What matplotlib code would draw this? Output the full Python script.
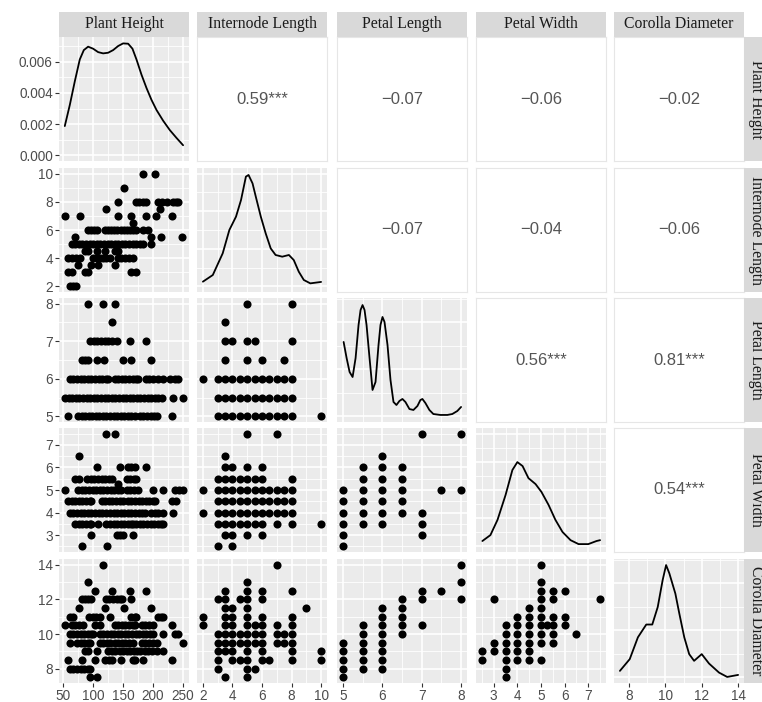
import numpy as np
import matplotlib.pyplot as plt
from matplotlib.ticker import MaxNLocator, AutoMinorLocator

variables = ["Plant Height", "Internode Length", "Petal Length", "Petal Width", "Corolla Diameter"]
var_ranges = [(53, 250), (2, 10), (5, 8), (2.5, 7.5), (7.5, 14)]
var_breaks = [[50, 100, 150, 200, 250], [2, 4, 6, 8, 10], [5, 6, 7, 8], [3, 4, 5, 6, 7], [8, 10, 12, 14]]

# correlations shown in the upper triangle
cor_cells = [(0, 1), (0, 2), (0, 3), (0, 4), (1, 2), (1, 3), (1, 4), (2, 3), (2, 4), (3, 4)]
cor_labels = ["0.59***", "\u22120.07", "\u22120.06", "\u22120.02", "\u22120.07",
              "\u22120.04", "\u22120.06", "0.56***", "0.81***", "0.54***"]

# diagonal density curves
ph_dens_x = [52.8, 61.2, 69.5, 77.8, 84.5, 91.7, 100, 108.4, 116.7, 125, 133.4, 141.7, 150,
             158.4, 165.6, 172.3, 180.6, 189, 197.3, 205.7, 216.8, 227.9, 239, 250]
ph_dens_y = [0.00188, 0.00324, 0.00475, 0.00615, 0.00675, 0.00697, 0.00684, 0.00662, 0.00654,
             0.00658, 0.00675, 0.00701, 0.00718, 0.00716, 0.00684, 0.00615, 0.00518, 0.00432,
             0.00356, 0.00291, 0.00222, 0.00162, 0.00112, 0.00065]
il_dens_x = [2.0, 2.67, 3.34, 3.79, 4.24, 4.58, 4.91, 5.09, 5.36, 5.58, 5.92, 6.25, 6.59, 6.92,
             7.37, 7.82, 8.15, 8.49, 8.83, 9.27, 10.0]
il_dens_y = [0.0125, 0.0302, 0.0879, 0.150, 0.1855, 0.2298, 0.292, 0.2964, 0.274, 0.2387, 0.1855,
             0.141, 0.101, 0.0835, 0.079, 0.0835, 0.070, 0.039, 0.017, 0.008, 0.0118]
pl_dens_x = [5.018, 5.094, 5.170, 5.246, 5.322, 5.397, 5.448, 5.499, 5.549, 5.600, 5.676, 5.752,
             5.828, 5.904, 5.954, 6.005, 6.056, 6.132, 6.208, 6.284, 6.359, 6.435, 6.511, 6.587,
             6.689, 6.790, 6.891, 6.967, 7.018, 7.094, 7.195, 7.296, 7.473, 7.651, 7.777, 7.904,
             8.0]
pl_dens_y = [0.792, 0.621, 0.472, 0.419, 0.621, 0.973, 1.132, 1.185, 1.132, 0.973, 0.621, 0.281,
             0.366, 0.760, 0.973, 1.058, 1.005, 0.760, 0.387, 0.153, 0.121, 0.164, 0.185, 0.153,
             0.078, 0.068, 0.110, 0.174, 0.185, 0.142, 0.068, 0.025, 0.015, 0.015, 0.025, 0.057,
             0.100]
pw_dens_x = [2.52, 2.86, 3.16, 3.5, 3.79, 4.0, 4.22, 4.47, 4.77, 5.02, 5.32, 5.61, 5.91, 6.25,
             6.59, 7.0, 7.35, 7.5]
pw_dens_y = [0.019, 0.040, 0.094, 0.182, 0.271, 0.299, 0.285, 0.242, 0.221, 0.193, 0.147, 0.094,
             0.051, 0.022, 0.008, 0.008, 0.019, 0.022]
cd_dens_x = [7.5, 8.04, 8.49, 8.95, 9.28, 9.58, 9.85, 10.04, 10.22, 10.55, 10.77, 11.04, 11.31,
             11.58, 12.0, 12.4, 12.95, 13.4, 14.0]
cd_dens_y = [0.0138, 0.0388, 0.0853, 0.1125, 0.1125, 0.1497, 0.2069, 0.2391, 0.2213, 0.1783,
             0.1354, 0.0853, 0.0495, 0.0352, 0.0495, 0.0295, 0.0102, 0.0009, 0.0052]
diag_ylims = [(-0.00036, 0.00759), (-0.015, 0.315), (-0.06, 1.26), (-0.02, 0.42), (-0.012, 0.252)]

# lower triangle scatter points, Plant Height on x: (y level, [plant heights])
il_ph = [
    (10, [183, 203]),
    (9, [151]),
    (8, [141, 171, 177, 183, 189, 208, 215, 224, 233, 238, 241]),
    (7.5, [122, 211]),
    (7, [53, 78, 141, 164, 189, 205, 231]),
    (6.5, [166]),
    (6, [91, 96, 101, 106, 120, 125, 130, 135, 139, 147, 152, 157, 162, 167, 172, 183, 191]),
    (5.5, [69, 197, 214, 249]),
    (5, [64, 70, 76, 82, 88, 94, 100, 106, 112, 118, 124, 130, 136, 142, 148, 154, 160, 166,
         172, 178, 183, 197]),
    (4.5, [86, 91, 106, 120, 136, 141]),
    (4, [58, 64, 72, 78, 100, 106, 112, 117, 122, 128, 141, 147, 153, 160, 166]),
    (3.5, [75, 97, 108, 136]),
    (3, [58, 64, 86, 92, 164, 172]),
    (2, [61, 66, 72]),
]
pl_ph = [
    (8, [92, 116, 137]),
    (7.5, [132]),
    (7, [95, 101, 107, 113, 119, 125, 131, 139, 161, 189]),
    (6.5, [81, 86, 92, 106, 118, 149, 164, 197]),
    (6, [61, 67, 73, 79, 85, 91, 97, 103, 109, 115, 121, 125, 136, 142, 148, 154, 160, 166, 172,
         175, 188, 194, 200, 208, 216, 229, 236, 242]),
    (5.5, [53, 59, 65, 71, 77, 83, 89, 95, 101, 107, 113, 119, 125, 131, 137, 143, 149, 155, 161,
           167, 173, 179, 185, 191, 197, 203, 209, 215, 234, 250]),
    (5, [58, 75, 81, 87, 93, 98, 104, 110, 116, 122, 128, 134, 140, 146, 152, 158, 164, 170, 178,
         184, 190, 196, 202, 206, 231]),
]
pw_ph = [
    (7.5, [121, 137]),
    (6.5, [76]),
    (6, [106, 144, 158, 164, 170, 189]),
    (5.5, [70, 76, 90, 96, 102, 108, 114, 120, 126, 131, 156, 162, 168, 172]),
    (5.25, [141]),
    (5, [53, 75, 81, 87, 93, 99, 105, 111, 117, 123, 129, 135, 141, 147, 156, 162, 168, 175, 200,
         216, 236, 244, 250]),
    (4.5, [58, 64, 70, 76, 82, 88, 94, 97, 114, 120, 126, 132, 138, 144, 150, 158, 164, 170, 176,
           182, 188, 194, 200, 203, 231, 239]),
    (4, [61, 67, 73, 79, 85, 91, 97, 103, 109, 115, 122, 128, 134, 140, 146, 152, 158, 164, 170,
         176, 182, 186, 197, 203, 209, 217, 233]),
    (3.5, [70, 76, 82, 88, 94, 97, 108, 122, 128, 134, 140, 146, 152, 158, 164, 167, 172, 178,
           184, 190, 196, 202, 208, 214, 217]),
    (3, [97, 139, 145, 150, 167]),
    (2.5, [82, 123]),
]
cd_ph = [
    (14, [116]),
    (13, [92]),
    (12.5, [103, 132, 161, 188]),
    (12, [81, 87, 92, 97, 121, 127, 133, 139, 145, 148, 164]),
    (11.5, [76, 120, 152, 196]),
    (11, [61, 67, 93, 99, 105, 111, 128, 164, 170, 172, 208, 214, 217]),
    (10.5, [53, 64, 70, 76, 83, 103, 111, 136, 142, 148, 154, 160, 166, 170, 181, 187, 193, 200,
            231]),
    (10, [61, 67, 73, 79, 85, 91, 97, 100, 111, 117, 123, 129, 135, 141, 147, 153, 159, 165, 171,
          177, 183, 189, 195, 200, 216, 236, 242]),
    (9.5, [62, 73, 79, 85, 91, 94, 111, 117, 123, 128, 136, 142, 148, 154, 160, 167, 181, 187,
           193, 200, 206, 250]),
    (9, [86, 92, 106, 125, 131, 136, 144, 150, 156, 162, 168, 174, 178, 186, 192, 198, 206, 216]),
    (8.5, [58, 81, 103, 120, 126, 131, 147, 166, 170, 183, 231]),
    (8, [61, 67, 73, 79, 85, 91, 94]),
    (7.5, [94, 107]),
]

# discrete x variables: (x level, [y values])
pl_il = [
    (2, [6]),
    (3, [6, 5.5, 5]),
    (3.5, [7.5, 7, 6.5, 6, 5.5, 5]),
    (4, [7, 6, 5.5, 5]),
    (4.5, [6, 5.5, 5]),
    (5, [8, 7, 6.5, 6, 5.5, 5]),
    (5.5, [7, 6, 5.5, 5]),
    (6, [6.5, 6, 5.5, 5]),
    (6.5, [6, 5.5, 5]),
    (7, [6, 5.5, 5]),
    (7.5, [6.5, 6, 5.5, 5]),
    (8, [8, 7, 6, 5.5, 5]),
    (10, [5]),
]
pw_il = [
    (2, [5, 4]),
    (3, [5.5, 5, 4.5, 4, 3.5, 2.5]),
    (3.5, [6.5, 6, 5.5, 5, 4.5, 4, 3.5, 3]),
    (4, [6, 5.5, 5, 4.5, 4, 3.5, 3, 2.5]),
    (4.5, [5.5, 5, 4.5, 4, 3.5]),
    (5, [7.5, 6, 5.5, 5, 4.5, 4, 3.5, 3]),
    (5.5, [5.5, 5, 4.5, 4, 3.5]),
    (6, [6, 5.5, 5, 4.5, 4, 3.5, 3]),
    (6.5, [5, 4.5, 4]),
    (7, [7.5, 5, 4.5, 4, 3.5]),
    (7.5, [5, 4.5, 4]),
    (8, [5.5, 5, 4.5, 4, 3.5]),
    (10, [3.5]),
]
cd_il = [
    (2, [11, 10.5]),
    (3, [12, 10, 9.5, 9, 8.5, 8]),
    (3.5, [12.5, 12, 11.5, 11, 10.5, 10, 9.5, 9, 7.5]),
    (4, [11.5, 11, 10.5, 10, 9.5, 9, 8.5]),
    (4.5, [12, 10, 9.5, 8.5]),
    (5, [13, 12.5, 12, 11.5, 11, 10.5, 10, 9.5, 9, 8.5, 8, 7.5]),
    (5.5, [10.5, 10, 9.5, 8]),
    (6, [12.5, 12, 11, 10.5, 10, 9.5, 9, 8.5]),
    (6.5, [8.5]),
    (7, [14, 10.5, 10, 9.5]),
    (7.5, [10, 9.5]),
    (8, [12.5, 11, 10.5, 10, 9.5, 9, 8.5]),
    (9, [11.5]),
    (10, [9, 8.5]),
]
pw_pl = [
    (5, [5, 4.5, 4, 3.5, 3, 2.5]),
    (5.5, [6, 5.5, 5, 4.5, 4, 3.5]),
    (6, [6.5, 6, 5.5, 5, 4.5, 4, 3.5]),
    (6.5, [6, 5.5, 5, 4.5, 4]),
    (7, [7.5, 4, 3.5, 3]),
    (7.5, [5]),
    (8, [7.5, 5]),
]
cd_pl = [
    (5, [9.5, 9, 8.5, 8, 7.5]),
    (5.5, [10.5, 10, 9.5, 9, 8.5, 8]),
    (6, [11.5, 11, 10.5, 10, 9.5, 9, 8.5, 8]),
    (6.5, [12, 11.5, 11, 10.5, 10]),
    (7, [12.5, 12, 10.5]),
    (7.5, [12.5]),
    (8, [14, 13, 12]),
]
cd_pw = [
    (2.5, [9, 8.5]),
    (3, [12, 9.5, 9]),
    (3.5, [10.5, 10, 9.5, 9, 8.5, 8, 7.5]),
    (4, [11, 10.5, 10, 9.5, 9, 8.5]),
    (4.5, [11.5, 11, 10.5, 10, 9.5, 9, 8.5]),
    (5, [14, 13, 12.5, 12, 11.5, 11, 10.5, 10, 9.5, 8.5]),
    (5.25, [10.5]),
    (5.5, [12.5, 12, 11, 10.5, 10, 9.5]),
    (6, [12.5, 11, 10.5]),
    (6.5, [10]),
    (7.5, [12]),
]


def from_rows(rows):
    xs, ys = [], []
    for yv, xvals in rows:
        xs += list(xvals)
        ys += [yv] * len(xvals)
    return xs, ys


def from_cols(cols):
    xs, ys = [], []
    for xv, yvals in cols:
        xs += [xv] * len(yvals)
        ys += list(yvals)
    return xs, ys


scatter = {
    (1, 0): from_rows(il_ph), (2, 0): from_rows(pl_ph), (3, 0): from_rows(pw_ph),
    (4, 0): from_rows(cd_ph), (2, 1): from_cols(pl_il), (3, 1): from_cols(pw_il),
    (4, 1): from_cols(cd_il), (3, 2): from_cols(pw_pl), (4, 2): from_cols(cd_pl),
    (4, 3): from_cols(cd_pw),
}
densities = [(ph_dens_x, ph_dens_y), (il_dens_x, il_dens_y), (pl_dens_x, pl_dens_y),
             (pw_dens_x, pw_dens_y), (cd_dens_x, cd_dens_y)]


def expanded(lo, hi):
    pad = 0.05 * (hi - lo)
    return lo - pad, hi + pad


def minor_between(breaks, lim):
    step = breaks[1] - breaks[0]
    cand = [breaks[0] - step / 2] + [b + step / 2 for b in breaks]
    return [c for c in cand if lim[0] <= c <= lim[1]]


W, H = 762, 702
fig = plt.figure(figsize=(W / 100, H / 100), dpi=100)
col_left = [59, 197, 337, 476, 614]
row_top = [37, 168, 298, 428, 559]
pw_, ph_ = 130, 124
strip_h = 25

SANS = "Liberation Sans"
SERIF = "Liberation Serif"
BG = "#EBEBEB"


def box(x0, y0, w, h):
    return [x0 / W, 1 - (y0 + h) / H, w / W, h / H]


for i in range(5):
    for j in range(5):
        ax = fig.add_axes(box(col_left[j], row_top[i], pw_, ph_))
        xlim = expanded(*var_ranges[j])
        ax.set_xlim(xlim)
        if i < j:
            ax.set_facecolor("white")
            for s in ax.spines.values():
                s.set_color("#E6E6E6")
                s.set_linewidth(0.8)
            ax.set_xticks([])
            ax.set_yticks([])
            ax.set_ylim(0, 1)
            k = cor_cells.index((i, j))
            ax.text(0.5, 0.5, cor_labels[k], transform=ax.transAxes, ha="center", va="center",
                    fontsize=12, color="#555555", family=SANS)
            continue

        ax.set_facecolor(BG)
        for s in ax.spines.values():
            s.set_visible(False)
        ax.set_xticks(var_breaks[j])
        ax.set_xticks(minor_between(var_breaks[j], xlim), minor=True)

        if i == j:
            dx, dy = densities[i]
            ax.plot(dx, dy, color="black", lw=1.3, solid_capstyle="round",
                    solid_joinstyle="round")
            ylim = diag_ylims[i]
            ax.set_ylim(ylim)
            if i == 0:
                yb = [0, 0.002, 0.004, 0.006]
                ax.set_yticks(yb)
                ax.set_yticks([0.001, 0.003, 0.005, 0.007], minor=True)
                ax.set_yticklabels(["%.3f" % v for v in yb])
            else:
                ax.yaxis.set_major_locator(MaxNLocator(nbins=5, steps=[1, 2, 2.5, 5, 10]))
                ax.yaxis.set_minor_locator(AutoMinorLocator(2))
        else:
            xs, ys = scatter[(i, j)]
            ax.scatter(xs, ys, s=34, color="black", linewidths=0, zorder=3)
            ylim = expanded(*var_ranges[i])
            ax.set_ylim(ylim)
            ax.set_yticks(var_breaks[i])
            ax.set_yticks(minor_between(var_breaks[i], ylim), minor=True)

        ax.grid(which="major", color="white", lw=1.2)
        ax.grid(which="minor", color="white", lw=0.6)
        ax.set_axisbelow(True)
        ax.tick_params(which="minor", length=0)
        ax.tick_params(which="major", length=3, width=0.8, color="#333333",
                       labelsize=9.8, labelcolor="#4D4D4D", pad=1.5)
        for lab in ax.get_xticklabels() + ax.get_yticklabels():
            lab.set_family(SANS)
        if j != 0:
            ax.tick_params(axis="y", which="major", length=0, labelleft=False)
        if i != 4:
            ax.tick_params(axis="x", which="major", length=0, labelbottom=False)

# facet strips
for j, name in enumerate(variables):
    sx = fig.add_axes(box(col_left[j], row_top[0] - strip_h, pw_, strip_h))
    sx.set_facecolor("#D9D9D9")
    sx.set_xticks([])
    sx.set_yticks([])
    for s in sx.spines.values():
        s.set_visible(False)
    sx.text(0.5, 0.5, name, transform=sx.transAxes, ha="center", va="center",
            fontsize=11.3, color="#1A1A1A", family=SERIF)

for i, name in enumerate(variables):
    sy = fig.add_axes(box(744, row_top[i], strip_h, ph_))
    sy.set_facecolor("#D9D9D9")
    sy.set_xticks([])
    sy.set_yticks([])
    for s in sy.spines.values():
        s.set_visible(False)
    sy.text(0.5, 0.5, name, transform=sy.transAxes, ha="center", va="center", rotation=270,
            fontsize=11.3, color="#1A1A1A", family=SERIF)

fig.savefig("out.png", dpi=100, facecolor="white")
